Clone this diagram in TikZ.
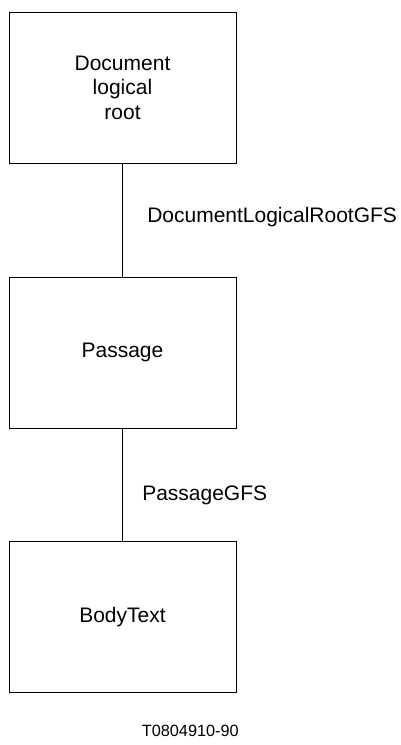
\documentclass[tikz,border=0pt]{standalone}
\usepackage{fontspec}
\setmainfont{Liberation Sans}
\usetikzlibrary{positioning}
\tikzset{
box/.style={%
    rectangle,
    minimum width=227pt,
    minimum height=151pt,
    draw=black,
    align=center,
    % Font
    font=\fontsize{21}{24.6}\selectfont
},
gfs/.style={%
    anchor=west,inner sep=0pt,font=\fontsize{21}{24.6}\selectfont
},
}

\begin{document}
\begin{tikzpicture}[x=1pt, y=-1pt, line width=0.9pt]
				\useasboundingbox (0,0) rectangle (401,745);

				\node[box] at (122.5,87.7) (root) {Document\\logical\\root};
				\node[box] at (122.5,352.8) (passage) {Passage};
				\node[box] at (122.5,617.2) (body) {BodyText};
				\node[font=\fontsize{16.3}{18}\selectfont] at (190.3,730.5) (code) {T0804910-90};

			\path (root) edge node[gfs, pos=0.47, xshift=24.3pt] {DocumentLogicalRootGFS} (passage);
			\path (passage) edge node[gfs, pos=0.595, xshift=19.3pt] {PassageGFS} (body);

			\end{tikzpicture}
\end{document}
